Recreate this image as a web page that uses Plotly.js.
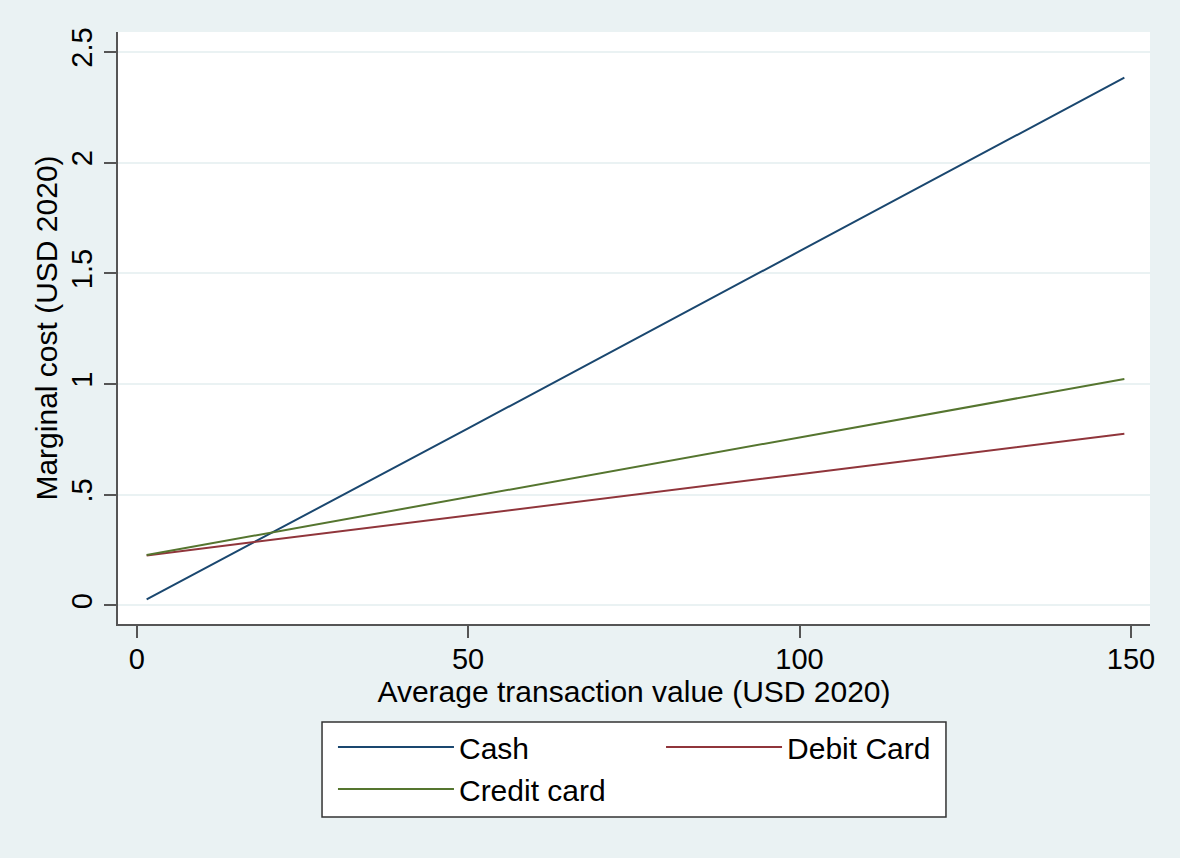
<!DOCTYPE html>
<html>
<head>
<meta charset="utf-8">
<script src="https://cdn.plot.ly/plotly-3.0.1.min.js"></script>
<style>
  html, body { margin: 0; padding: 0; background: #EAF2F3; }
  #chart { width: 1180px; height: 858px; }
</style>
</head>
<body>
<div id="chart"></div>
<script>
// Average transaction value (USD 2020)
const transactionValue = [1.5, 50, 100, 149];

// Marginal cost (USD 2020) per payment instrument
const cashCost   = [0.028, 0.80, 1.60, 2.384];
const debitCost  = [0.226, 0.408, 0.593, 0.776];
const creditCost = [0.228, 0.49, 0.757, 1.023];

const seriesNames = ["Cash", "Debit Card", "Credit card"];

const yTickVals = [0, 0.5, 1, 1.5, 2, 2.5];
const yTickText = ["0", ".5", "1", "1.5", "2", "2.5"];
const xTickVals = [0, 50, 100, 150];

const FONT = "Liberation Sans, Arial, sans-serif";

// Two legend columns share one framed box (drawn as a shape below):
// left column holds Cash and Credit card, right column holds Debit Card.
const traces = [
  { x: transactionValue, y: cashCost,   name: seriesNames[0], mode: "lines",
    legend: "legend",  line: { color: "#1A476F", width: 2 } },
  { x: transactionValue, y: debitCost,  name: seriesNames[1], mode: "lines",
    legend: "legend2", line: { color: "#90353B", width: 2 } },
  { x: transactionValue, y: creditCost, name: seriesNames[2], mode: "lines",
    legend: "legend",  line: { color: "#55752F", width: 2 } }
];

const legendStyle = {
  orientation: "v",
  yanchor: "top",
  xanchor: "left",
  y: -0.1639,
  bgcolor: "rgba(0,0,0,0)",
  borderwidth: 0,
  font: { family: FONT, size: 30, color: "#000000" },
  itemwidth: 116,
  traceorder: "normal"
};

const layout = {
  width: 1180,
  height: 858,
  paper_bgcolor: "#EAF2F3",
  plot_bgcolor: "#FFFFFF",
  font: { family: FONT, color: "#000000", size: 29 },
  margin: { l: 118, r: 30, t: 32, b: 234 },
  showlegend: true,
  legend:  Object.assign({}, legendStyle, { x: 0.2083 }),
  legend2: Object.assign({}, legendStyle, { x: 0.5262 }),
  shapes: [{
    type: "rect", xref: "paper", yref: "paper",
    x0: 0.1977, x1: 0.8023, y0: -0.326, y1: -0.1655,
    fillcolor: "#FFFFFF",
    line: { color: "#333333", width: 1.5 },
    layer: "below"
  }],
  xaxis: {
    range: [-2.82, 152.87],
    tickvals: xTickVals,
    ticktext: xTickVals.map(String),
    ticks: "outside",
    ticklen: 12,
    tickwidth: 2,
    tickcolor: "#555555",
    ticklabelstandoff: -4,
    showline: true,
    linecolor: "#555555",
    linewidth: 2,
    showgrid: false,
    zeroline: false,
    tickfont: { family: FONT, size: 29 },
    title: { text: "Average transaction value (USD 2020)", font: { family: FONT, size: 30 }, standoff: 0 }
  },
  yaxis: {
    range: [-0.0836, 2.590],
    tickvals: yTickVals,
    ticktext: yTickText,
    tickangle: -90,
    ticks: "outside",
    ticklen: 12,
    tickwidth: 2,
    tickcolor: "#555555",
    showline: true,
    linecolor: "#555555",
    linewidth: 2,
    showgrid: true,
    gridcolor: "#EAF2F3",
    gridwidth: 2,
    zeroline: false,
    tickfont: { family: FONT, size: 29 },
    title: { text: "Marginal cost (USD 2020)", font: { family: FONT, size: 30 }, standoff: 0 }
  }
};

Plotly.newPlot("chart", traces, layout, { displayModeBar: false, staticPlot: true });
</script>
</body>
</html>
